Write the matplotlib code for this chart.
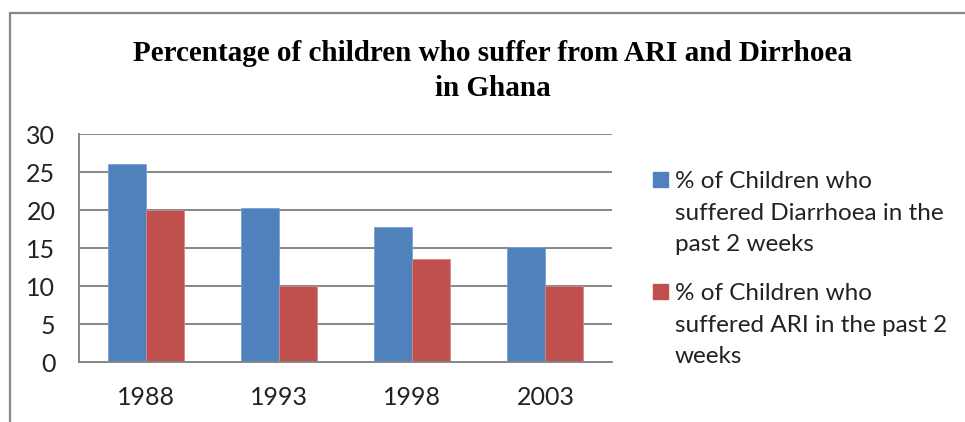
import matplotlib.pyplot as plt
from matplotlib.patches import Rectangle
import numpy as np

years = ["1988", "1993", "1998", "2003"]
diarrhoea = [26.1, 20.2, 17.8, 15.1]
ari = [20.0, 10.0, 13.6, 10.0]
series_names = ["% of Children who\nsuffered Diarrhoea in the\npast 2 weeks",
                "% of Children who\nsuffered ARI in the past 2\nweeks"]
title = "Percentage of children who suffer from ARI and Dirrhoea\nin Ghana"

blue = "#4F81BD"
red = "#C0504D"
grid_col = "#868686"
W, H = 965, 422

fig = plt.figure(figsize=(W / 100, H / 100), dpi=100)
fig.patch.set_facecolor("white")

# outer chart frame, runs off the right and bottom edges
fig.add_artist(Rectangle((10 / W, -0.05), 1.1, (H - 13) / H + 0.05,
                         transform=fig.transFigure, fill=False,
                         edgecolor="#898989", linewidth=1.6))

ax = fig.add_axes([79 / W, (H - 362) / H, (612 - 79) / W, (362 - 134) / H])
x = np.arange(len(years))
w = 1 / 3.5
ax.bar(x - w / 2, diarrhoea, w, color=blue, edgecolor="#7DA0CF", linewidth=0.6)
ax.bar(x + w / 2, ari, w, color=red, edgecolor="#D48886", linewidth=0.6)

ax.set_xlim(-0.5, len(years) - 0.5)
ax.set_ylim(0, 30)
ax.set_yticks(range(0, 31, 5))
ax.set_xticks(x)
ax.set_xticklabels(years)
ax.yaxis.grid(True, color=grid_col, linewidth=1.4)
ax.set_axisbelow(True)
for s in ["top", "right"]:
    ax.spines[s].set_visible(False)
for s in ["left", "bottom"]:
    ax.spines[s].set_color(grid_col)
    ax.spines[s].set_linewidth(1.4)
ax.tick_params(length=0, labelsize=18, colors="#222222")
ax.tick_params(axis="x", pad=17)
ax.tick_params(axis="y", pad=17)
for lab in ax.get_xticklabels() + ax.get_yticklabels():
    lab.set_family("Lato")

fig.text(493 / W, 1 - 71 / H, title, ha="center", va="center",
         family="Liberation Serif", weight="bold", fontsize=21,
         linespacing=1.4)

# legend drawn by hand: square swatch + wrapped label
for name, col, ytop in [(series_names[0], blue, 172), (series_names[1], red, 284)]:
    fig.add_artist(Rectangle((653 / W, 1 - (ytop + 15) / H), 15 / W, 15 / H,
                             transform=fig.transFigure, color=col))
    fig.text(675 / W, 1 - (ytop - 1) / H, name, ha="left", va="top",
             family="Lato", fontsize=17.5, linespacing=1.62, color="#222222")

fig.savefig("out.png", dpi=100)
